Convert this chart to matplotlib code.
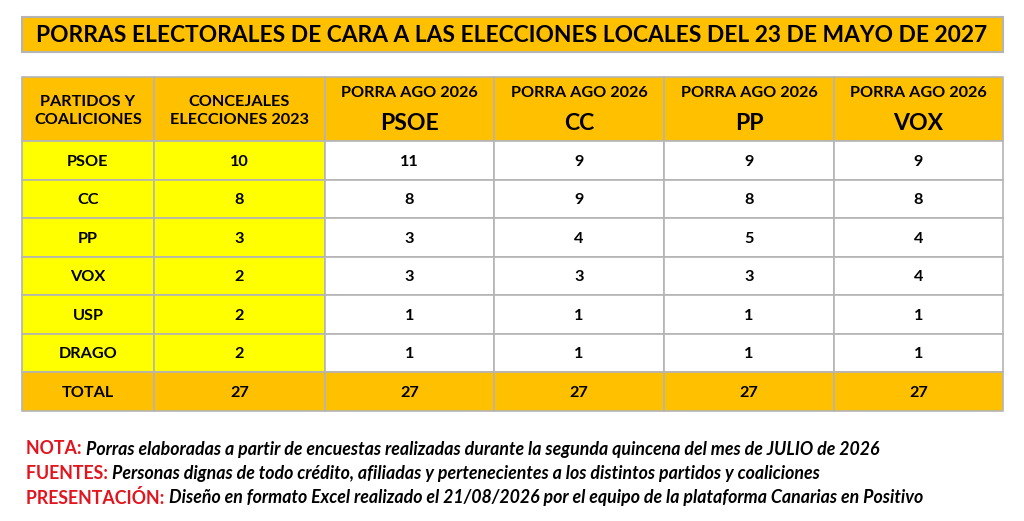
import matplotlib
matplotlib.use("Agg")
import matplotlib.pyplot as plt
from matplotlib.patches import Rectangle

plt.rcParams["font.family"] = ["Lato", "DejaVu Sans"]

TITLE = "PORRAS ELECTORALES DE CARA A LAS ELECCIONES LOCALES DEL 23 DE MAYO DE 2027"
PARTIES = ["PSOE", "CC", "PP", "VOX", "USP", "DRAGO"]
SEATS_2023 = [10, 8, 3, 2, 2, 2]
PORRA_LABELS = ["PSOE", "CC", "PP", "VOX"]
PORRA_PSOE = [11, 8, 3, 3, 1, 1]
PORRA_CC = [9, 9, 4, 3, 1, 1]
PORRA_PP = [9, 8, 5, 3, 1, 1]
PORRA_VOX = [9, 8, 4, 4, 1, 1]
NOTES = [
    ("NOTA: ", "Porras elaboradas a partir de encuestas realizadas durante la segunda quincena del mes de JULIO de 2026"),
    ("FUENTES: ", "Personas dignas de todo crédito, afiliadas y pertenecientes a los distintos partidos y coaliciones"),
    ("PRESENTACIÓN: ", "Diseño en formato Excel realizado el 21/08/2026 por el equipo de la plataforma Canarias en Positivo"),
]

ORANGE = "#ffc000"
YELLOW = "#ffff00"
GRID = "#b4b4b4"
RED = "#e2141e"

fig = plt.figure(figsize=(10.24, 5.21), dpi=100)
ax = fig.add_axes([0, 0, 1, 1])
ax.set_xlim(0, 1024)
ax.set_ylim(521, 0)
ax.axis("off")

def px(s):
    return s * 0.72

# title box
ax.add_patch(Rectangle((22, 17), 981, 35, facecolor=ORANGE, edgecolor=GRID, lw=1.5))
ax.text(512, 36, TITLE, ha="center", va="center", fontsize=px(22.8), fontweight="bold")

cols = [22, 154, 325, 494, 664, 834, 1003]
header_top, header_bot = 77, 141
row_h = 38.5
porras = [PORRA_PSOE, PORRA_CC, PORRA_PP, PORRA_VOX]
FS = px(16.3)

def cell(c, y0, h, color):
    ax.add_patch(Rectangle((cols[c], y0), cols[c + 1] - cols[c], h,
                           facecolor=color, edgecolor=GRID, lw=1.2))

def cx(c):
    return (cols[c] + cols[c + 1]) / 2

# header
for c in range(6):
    cell(c, header_top, header_bot - header_top, ORANGE)
ax.text(cx(0), 111, "PARTIDOS Y\nCOALICIONES", ha="center", va="center",
        fontsize=FS, fontweight="bold", linespacing=1.45)
ax.text(cx(1), 111, "CONCEJALES\nELECCIONES 2023", ha="center", va="center",
        fontsize=FS, fontweight="bold", linespacing=1.45)
for k, lab in enumerate(PORRA_LABELS):
    ax.text(cx(k + 2), 93, "PORRA AGO 2026", ha="center", va="center",
            fontsize=FS, fontweight="bold")
    ax.text(cx(k + 2), 123, lab, ha="center", va="center",
            fontsize=px(23), fontweight="bold")

# body rows
for r, party in enumerate(PARTIES):
    y0 = header_bot + r * row_h
    cell(0, y0, row_h, YELLOW)
    cell(1, y0, row_h, YELLOW)
    for c in range(2, 6):
        cell(c, y0, row_h, "white")
    yc = y0 + row_h / 2 + 1.5
    ax.text(cx(0), yc, party, ha="center", va="center", fontsize=FS, fontweight="bold")
    ax.text(cx(1), yc, str(SEATS_2023[r]), ha="center", va="center", fontsize=FS, fontweight="bold")
    for k, vals in enumerate(porras):
        ax.text(cx(k + 2), yc, str(vals[r]), ha="center", va="center",
                fontsize=FS, fontweight="bold")

# total row
y0 = header_bot + len(PARTIES) * row_h
for c in range(6):
    cell(c, y0, row_h, ORANGE)
yc = y0 + row_h / 2 + 1.5
ax.text(cx(0), yc, "TOTAL", ha="center", va="center", fontsize=FS, fontweight="bold")
ax.text(cx(1), yc, str(sum(SEATS_2023)), ha="center", va="center", fontsize=FS, fontweight="bold")
for k, vals in enumerate(porras):
    ax.text(cx(k + 2), yc, str(sum(vals)), ha="center", va="center",
            fontsize=FS, fontweight="bold")

# notes
fig.canvas.draw()
renderer = fig.canvas.get_renderer()
for i, (lab, txt) in enumerate(NOTES):
    y = 449 + i * 24.5
    t = ax.text(26, y, lab, ha="left", va="center", color=RED,
                fontsize=px(17.8), fontweight="bold")
    bb = t.get_window_extent(renderer)
    x_end = ax.transData.inverted().transform((bb.x1, bb.y0))[0]
    ax.text(x_end, y, txt, ha="left", va="center", color="black",
            fontsize=px(17.8), fontweight="bold", fontstyle="italic")

fig.savefig("out.png", dpi=100)
